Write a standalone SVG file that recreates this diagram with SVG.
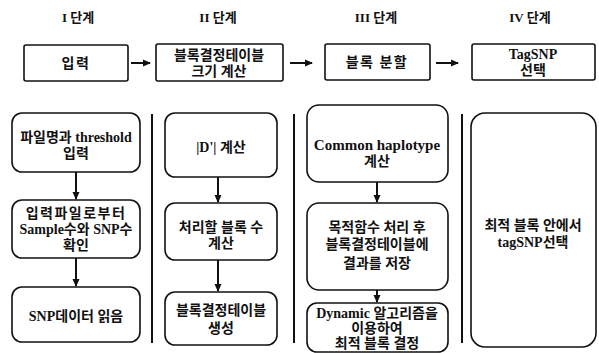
<svg xmlns="http://www.w3.org/2000/svg" width="599" height="353" viewBox="0 0 599 353">
<defs>
<marker id="ah" markerWidth="8" markerHeight="8" refX="7" refY="4" orient="auto" markerUnits="userSpaceOnUse">
<path d="M0,0.5 L8,4 L0,7.5 Z" fill="#111"/>
</marker>
<style>
.t{font-family:"Liberation Serif","Noto Sans CJK KR",serif;font-size:14px;fill:#111;text-anchor:middle;font-weight:bold}
.k{letter-spacing:1.5px}
.h{font-family:"Liberation Serif","Noto Sans CJK KR",serif;font-size:13px;fill:#111;text-anchor:middle;font-weight:bold}
.bx{fill:#fff;stroke:#111;stroke-width:1.6}
.ln{stroke:#111;stroke-width:2;fill:none}
.dv{stroke:#111;stroke-width:2}
</style>
</defs>
<rect width="599" height="353" fill="#fff"/>
<g id="headers">
<text class="h" x="78" y="22">I 단계</text>
<text class="h" x="218" y="22">II 단계</text>
<text class="h" x="376" y="22">III 단계</text>
<text class="h" x="530" y="22">IV 단계</text>
</g>
<g id="dividers">
<line class="dv" x1="152" y1="114" x2="152" y2="343"/>
<line class="dv" x1="294" y1="114" x2="294" y2="343"/>
<line class="dv" x1="462" y1="114" x2="462" y2="343"/>
</g>
<g id="s1">
<rect class="bx" x="24" y="45" width="104" height="36" rx="2"/>
<text class="t k" x="76" y="68">입력</text>
</g>
<g id="s2">
<rect class="bx" x="156" y="44" width="127" height="37" rx="2"/>
<text class="t" x="219" y="60">블록결정테이블</text>
<text class="t" x="219" y="76">크기 계산</text>
</g>
<g id="s3">
<rect class="bx" x="325" y="44" width="105" height="36" rx="2"/>
<text class="t k" x="377" y="67">블록 분할</text>
</g>
<g id="s4">
<rect class="bx" x="472" y="44" width="123" height="36" rx="2"/>
<text class="t" x="533" y="59">TagSNP</text>
<text class="t" x="533" y="75">선택</text>
</g>
<g id="c1a">
<rect class="bx" x="12" y="113" width="128" height="59" rx="10"/>
<text class="t" x="76" y="142">파일명과 threshold</text>
<text class="t" x="76" y="158">입력</text>
</g>
<g id="c1b">
<rect class="bx" x="12" y="200" width="128" height="58" rx="10"/>
<text class="t k" x="76" y="218">입력파일로부터</text>
<text class="t" x="76" y="234">Sample수와 SNP수</text>
<text class="t" x="76" y="250">확인</text>
</g>
<g id="c1c">
<rect class="bx" x="12" y="287" width="128" height="55" rx="10"/>
<text class="t" x="76" y="321">SNP데이터 읽음</text>
</g>
<g id="c2a">
<rect class="bx" x="165" y="113" width="112" height="64" rx="10"/>
<text class="t" x="221" y="152">|D'| 계산</text>
</g>
<g id="c2b">
<rect class="bx" x="165" y="203" width="112" height="57" rx="10"/>
<text class="t" x="221" y="232">처리할 블록 수</text>
<text class="t" x="221" y="248">계산</text>
</g>
<g id="c2c">
<rect class="bx" x="165" y="292" width="112" height="53" rx="10"/>
<text class="t" x="221" y="315">블록결정테이블</text>
<text class="t" x="221" y="333">생성</text>
</g>
<g id="c3a">
<rect class="bx" x="307" y="105" width="141" height="77" rx="12"/>
<text class="t" x="377" y="150" style="font-size:15px">Common haplotype</text>
<text class="t" x="377" y="166">계산</text>
</g>
<g id="c3b">
<rect class="bx" x="307" y="203" width="141" height="87" rx="12"/>
<text class="t" x="377" y="232">목적함수 처리 후</text>
<text class="t" x="377" y="249">블록결정테이블에</text>
<text class="t" x="377" y="268">결과를 저장</text>
</g>
<g id="c3c">
<rect class="bx" x="307" y="303" width="141" height="49" rx="10"/>
<text class="t" x="377" y="318">Dynamic 알고리즘을</text>
<text class="t" x="377" y="333">이용하여</text>
<text class="t" x="377" y="348">최적 블록 결정</text>
</g>
<g id="c4">
<rect class="bx" x="471" y="113" width="125" height="234" rx="14"/>
<text class="t" x="533" y="230">최적 블록 안에서</text>
<text class="t" x="533" y="247">tagSNP선택</text>
</g>
<g id="connectors">
<line class="ln" x1="131" y1="63" x2="150" y2="63" marker-end="url(#ah)"/>
<line class="ln" x1="290" y1="63" x2="312" y2="63" marker-end="url(#ah)"/>
<line class="ln" x1="436" y1="63" x2="458" y2="63" marker-end="url(#ah)"/>
<line class="ln" x1="76" y1="172" x2="76" y2="199" marker-end="url(#ah)"/>
<line class="ln" x1="76" y1="258" x2="76" y2="286" marker-end="url(#ah)"/>
<line class="ln" x1="218" y1="177" x2="218" y2="202" marker-end="url(#ah)"/>
<line class="ln" x1="218" y1="260" x2="218" y2="291" marker-end="url(#ah)"/>
<line class="ln" x1="377" y1="182" x2="377" y2="202" marker-end="url(#ah)"/>
<line class="ln" x1="377" y1="290" x2="377" y2="302" marker-end="url(#ah)"/>
</g>
</svg>
